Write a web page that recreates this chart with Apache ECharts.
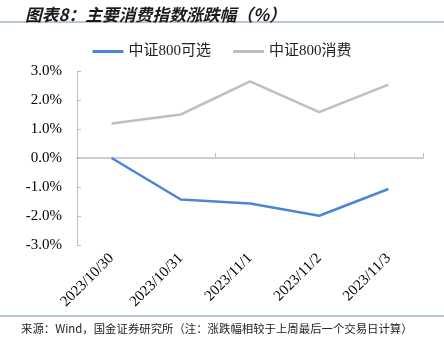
<!DOCTYPE html>
<html><head><meta charset="utf-8">
<script src="https://cdn.jsdelivr.net/npm/echarts@6/dist/echarts.min.js"></script>
<style>html,body{margin:0;padding:0;background:#fff}#c{width:444px;height:357px}</style>
</head><body><div id="c"></div>
<script>
var categories = ['2023/10/30', '2023/10/31', '2023/11/1', '2023/11/2', '2023/11/3'];
var seriesNames = ['中证800可选', '中证800消费'];
var optionalValues = [0.0, -1.43, -1.57, -1.99, -1.07];
var consumerValues = [1.19, 1.50, 2.64, 1.58, 2.53];
var yTicks = [-3, -2, -1, 0, 1, 2, 3];
var titleText = '图表8：主要消费指数涨跌幅（%）';
var sourceText = '来源：Wind，国金证券研究所（注：涨跌幅相较于上周最后一个交易日计算）';

var chart = echarts.init(document.getElementById('c'), null, {renderer: 'canvas'});
var serif = '"Liberation Serif", "Times New Roman", "Noto Sans CJK SC", serif';
var axisGray = '#BFBFBF';
var ruleColor = '#9DB3C8';
chart.setOption({
  animation: false,
  backgroundColor: '#fff',
  title: {
    text: titleText, left: 20, top: 1,
    textStyle: {fontSize: 16.8, fontWeight: 'bold', fontStyle: 'italic', color: '#1a1a1a', fontFamily: '"Noto Sans CJK SC", sans-serif'}
  },
  legend: {
    top: 39, left: 'center', itemWidth: 31, itemHeight: 3, itemGap: 22,
    icon: 'rect',
    textStyle: {fontSize: 15, color: '#222', fontFamily: serif},
    data: seriesNames
  },
  grid: {left: 77, right: 21, top: 71, bottom: 112, containLabel: false},
  xAxis: [{
    type: 'category', data: categories, boundaryGap: true,
    axisLine: {onZero: true, lineStyle: {color: axisGray, width: 1.5}},
    axisTick: {show: true, inside: true, length: 5, lineStyle: {color: axisGray, width: 1}},
    axisLabel: {show: false}
  }, {
    type: 'category', data: categories, position: 'bottom', boundaryGap: true,
    axisLine: {show: false, onZero: false}, axisTick: {show: false},
    axisLabel: {show: true, rotate: 45, margin: 11, interval: 0, fontSize: 15, color: '#000', fontFamily: serif}
  }],
  yAxis: {
    type: 'value', min: yTicks[0], max: yTicks[yTicks.length - 1], interval: 1,
    axisLine: {show: true, lineStyle: {color: axisGray, width: 1}},
    axisTick: {show: true, inside: true, length: 4, lineStyle: {color: axisGray}},
    splitLine: {show: false},
    axisLabel: {margin: 15, fontSize: 15, color: '#000', fontFamily: serif,
      formatter: function (v) { return v.toFixed(1) + '%'; }}
  },
  series: [{
    name: seriesNames[0], type: 'line', data: optionalValues, xAxisIndex: 0,
    symbol: 'none', lineStyle: {color: '#4A86D6', width: 2.5}, itemStyle: {color: '#4A86D6'}
  }, {
    name: seriesNames[1], type: 'line', data: consumerValues, xAxisIndex: 0,
    symbol: 'none', lineStyle: {color: '#BFBFBF', width: 2.5}, itemStyle: {color: '#BFBFBF'}
  }],
  graphic: [
    {type: 'line', shape: {x1: 0, y1: 22, x2: 444, y2: 22}, style: {stroke: ruleColor, lineWidth: 1.5}},
    {type: 'line', shape: {x1: 0, y1: 316, x2: 444, y2: 316}, style: {stroke: ruleColor, lineWidth: 1.5}},
    {type: 'text', left: 21, top: 323, style: {text: sourceText, fontSize: 11.4, fill: '#222', fontFamily: '"Noto Sans CJK SC", sans-serif'}}
  ]
});
</script></body></html>
